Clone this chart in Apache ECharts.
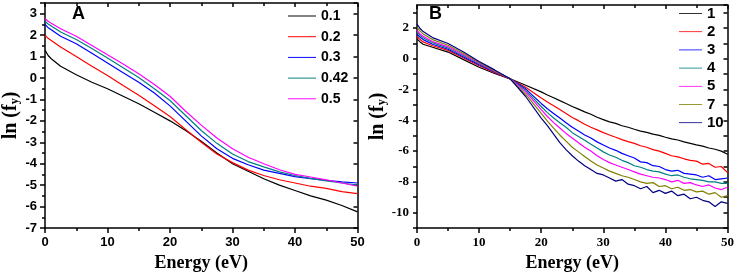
<!DOCTYPE html>
<html>
<head>
<meta charset="utf-8">
<script src="https://cdn.jsdelivr.net/npm/echarts@6/dist/echarts.min.js"></script>
<style>
  html, body { margin: 0; padding: 0; background: #fff; }
  #chart { width: 737px; height: 277px; }
</style>
</head>
<body>
<div id="chart"></div>
<script>
// panel A: ln(f_y) vs energy for several values
const energyA = [0, 0.5, 1, 2.5, 5, 7.5, 10, 12.5, 15, 17.5, 20, 22.5, 25, 27.5, 30, 32.5, 35, 37.5, 40, 42.5, 45, 47.5, 50]
const namesA = ['0.1', '0.2', '0.3', '0.42', '0.5']
const colorsA = ['#000000', '#ff0000', '#0000ff', '#008080', '#ff00ff']
const a01 = [1.3, 1.05, 0.9, 0.55, 0.15, -0.2, -0.5, -0.85, -1.2, -1.6, -2.0, -2.45, -2.95, -3.5, -4.0, -4.35, -4.7, -5.0, -5.25, -5.5, -5.7, -5.95, -6.25]
const a02 = [2.0, 1.85, 1.75, 1.45, 1.0, 0.55, 0.12, -0.35, -0.8, -1.3, -1.8, -2.4, -3.0, -3.55, -3.95, -4.3, -4.55, -4.75, -4.9, -5.05, -5.15, -5.3, -5.4]
const a03 = [2.5, 2.35, 2.25, 1.95, 1.6, 1.15, 0.7, 0.25, -0.2, -0.7, -1.3, -2.0, -2.7, -3.3, -3.75, -4.05, -4.3, -4.45, -4.6, -4.7, -4.78, -4.85, -4.9]
const a042 = [2.65, 2.52, 2.43, 2.15, 1.8, 1.38, 0.93, 0.48, 0.02, -0.5, -1.05, -1.75, -2.45, -3.05, -3.55, -3.9, -4.15, -4.38, -4.55, -4.68, -4.8, -4.9, -5.0]
const a05 = [2.78, 2.65, 2.56, 2.3, 1.95, 1.52, 1.08, 0.65, 0.2, -0.3, -0.85, -1.55, -2.2, -2.8, -3.3, -3.7, -4.0, -4.28, -4.5, -4.62, -4.75, -4.9, -5.05]
const valuesA = [a01, a02, a03, a042, a05]

// panel B
const energyB = [0, 0.5, 1, 2.5, 5, 7.5, 10, 12.5, 15, 17.5, 20, 21, 22, 23, 24, 25, 26, 27, 28, 29, 30, 31, 32, 33, 34, 35, 36, 37, 38, 39, 40, 41, 42, 43, 44, 45, 46, 47, 48, 49, 50]
const namesB = ['1', '2', '3', '4', '5', '7', '10']
const colorsB = ['#000000', '#ff0000', '#0000ff', '#008080', '#ff00ff', '#808000', '#000080']
const b1 = [1.3, 1.1, 0.95, 0.75, 0.44, -0.05, -0.55, -0.95, -1.3, -1.72, -2.15, -2.35, -2.53, -2.72, -2.9, -3.1, -3.27, -3.45, -3.6, -3.8, -3.95, -4.1, -4.2, -4.35, -4.45, -4.58, -4.7, -4.78, -4.9, -4.98, -5.1, -5.2, -5.28, -5.4, -5.5, -5.6, -5.68, -5.8, -5.88, -6.0, -6.2]
const b2 = [1.45, 1.25, 1.1, 0.85, 0.55, 0.05, -0.45, -0.9, -1.3, -1.85, -2.55, -2.8, -3.05, -3.3, -3.55, -3.82, -4.02, -4.25, -4.45, -4.62, -4.8, -4.95, -5.1, -5.25, -5.38, -5.5, -5.65, -5.75, -5.9, -6.0, -6.15, -6.3, -6.38, -6.5, -6.6, -6.65, -6.85, -6.8, -7.05, -7.0, -7.4]
const b3 = [1.6, 1.4, 1.25, 0.95, 0.62, 0.12, -0.38, -0.85, -1.3, -1.95, -2.9, -3.25, -3.55, -3.85, -4.15, -4.45, -4.7, -4.95, -5.15, -5.4, -5.6, -5.8, -5.95, -6.15, -6.3, -6.45, -6.7, -6.75, -6.95, -7.0, -7.2, -7.3, -7.25, -7.45, -7.5, -7.55, -7.7, -7.6, -7.85, -7.8, -7.75]
const b4 = [1.75, 1.52, 1.37, 1.05, 0.7, 0.2, -0.32, -0.82, -1.3, -2.05, -3.1, -3.5, -3.85, -4.15, -4.45, -4.8, -5.05, -5.3, -5.55, -5.8, -6.05, -6.25, -6.4, -6.6, -6.75, -6.95, -7.05, -7.2, -7.3, -7.35, -7.5, -7.6, -7.55, -7.7, -7.8, -7.85, -7.9, -8.0, -8.0, -8.1, -8.1]
const b5 = [1.85, 1.62, 1.47, 1.13, 0.78, 0.27, -0.27, -0.8, -1.3, -2.15, -3.3, -3.75, -4.15, -4.5, -4.85, -5.15, -5.45, -5.75, -6.0, -6.3, -6.55, -6.75, -6.9, -7.05, -7.2, -7.35, -7.5, -7.6, -7.7, -7.75, -7.85, -8.0, -7.9, -8.1, -8.05, -8.2, -8.3, -8.2, -8.4, -8.5, -8.35]
const b7 = [2.05, 1.8, 1.62, 1.25, 0.88, 0.35, -0.22, -0.77, -1.3, -2.3, -3.55, -4.05, -4.5, -4.95, -5.35, -5.75, -6.05, -6.35, -6.65, -6.9, -7.1, -7.3, -7.45, -7.6, -7.7, -7.85, -8.0, -8.1, -8.05, -8.3, -8.25, -8.45, -8.35, -8.55, -8.5, -8.65, -8.6, -8.8, -8.7, -9.0, -8.9]
const b10 = [2.25, 1.97, 1.77, 1.38, 1.0, 0.45, -0.17, -0.72, -1.3, -2.45, -3.85, -4.35, -4.9, -5.45, -5.9, -6.3, -6.65, -6.95, -7.2, -7.45, -7.55, -7.75, -7.95, -7.85, -8.15, -8.25, -8.45, -8.3, -8.7, -8.55, -8.75, -8.6, -8.9, -8.8, -9.1, -9.0, -9.2, -9.3, -9.6, -9.3, -9.4]
const valuesB = [b1, b2, b3, b4, b5, b7, b10]

const sans = 'Liberation Sans, Arial, sans-serif'
const serif = 'Liberation Serif, Times New Roman, serif'

const chart = echarts.init(document.getElementById('chart'))

const axisLine = { onZero: false, lineStyle: { color: '#000', width: 1.5 } }
const tickStyle = { color: '#000', width: 1.5 }

const bottomAxis = (grid, font) => ({
  type: 'value', gridIndex: grid, position: 'bottom',
  min: 0, max: 50, interval: 10,
  name: 'Energy (eV)', nameLocation: 'middle', nameGap: 26,
  nameTextStyle: { fontFamily: serif, fontWeight: 'bold', fontSize: 18, color: '#000' },
  axisLine,
  axisTick: { length: 5, lineStyle: tickStyle },
  minorTick: { show: true, splitNumber: 2, length: 3, lineStyle: tickStyle },
  axisLabel: { margin: 8, fontFamily: font, fontWeight: 'bold', fontSize: 13, color: '#000' },
  splitLine: { show: false }
})

const topAxis = grid => ({
  type: 'value', gridIndex: grid, position: 'top',
  min: 0, max: 50, interval: 10,
  axisLine,
  axisTick: { inside: true, length: 4, lineStyle: tickStyle },
  minorTick: { show: true, splitNumber: 2, length: 3, lineStyle: tickStyle },
  axisLabel: { show: false },
  splitLine: { show: false }
})

const yName = {
  name: '{a|ln (f}{s|y}{a|)}', nameLocation: 'middle',
  nameTextStyle: {
    rich: {
      a: { fontFamily: serif, fontWeight: 'bold', fontSize: 20, color: '#000' },
      s: { fontFamily: serif, fontWeight: 'bold', fontSize: 12, color: '#000', verticalAlign: 'bottom', padding: [8, 0, 0, 0] }
    }
  }
}

// thin horizontal bar used as legend line sample
const lineIcon = 'path://M0,0 H40 V1.4 H0 Z'

const option = {
  animation: false,
  grid: [
    { left: 44, top: 3, right: 379.5, bottom: 44.3 },
    { left: 417, top: 5, right: 9, bottom: 42.5 }
  ],
  xAxis: [
    bottomAxis(0, sans), topAxis(0),
    bottomAxis(1, serif), topAxis(1)
  ],
  yAxis: [
    {
      type: 'value', gridIndex: 0, position: 'left',
      min: -7, max: 3.5, interval: 1,
      ...yName, nameGap: 24,
      axisLine,
      axisTick: { length: 5, lineStyle: tickStyle },
      minorTick: { show: true, splitNumber: 2, length: 3, lineStyle: tickStyle },
      axisLabel: { margin: 8, showMaxLabel: false, fontFamily: sans, fontWeight: 'bold', fontSize: 13, color: '#000' },
      splitLine: { show: false }
    },
    {
      type: 'value', gridIndex: 0, position: 'right',
      min: -7, max: 3.5, interval: 1,
      axisLine,
      axisTick: { inside: true, length: 4, lineStyle: tickStyle },
      axisLabel: { show: false },
      splitLine: { show: false }
    },
    {
      type: 'value', gridIndex: 1, position: 'left',
      min: -11, max: 3.5, interval: 1,
      ...yName, nameGap: 28,
      axisLine,
      axisTick: { length: 4, lineStyle: tickStyle },
      axisLabel: {
        margin: 8, showMaxLabel: false, fontFamily: serif, fontWeight: 'bold', fontSize: 13, color: '#000',
        formatter: v => (v % 2 === 0 ? v : '')
      },
      splitLine: { show: false }
    },
    {
      type: 'value', gridIndex: 1, position: 'right',
      min: -11, max: 3.5, interval: 1,
      axisLine,
      axisTick: { inside: true, length: 4, lineStyle: tickStyle },
      axisLabel: { show: false },
      splitLine: { show: false }
    }
  ],
  legend: [
    {
      data: namesA, orient: 'vertical', left: 288, top: 9, padding: 0,
      icon: lineIcon, itemWidth: 28, itemHeight: 14, itemGap: 6.7,
      textStyle: { fontFamily: sans, fontWeight: 'bold', fontSize: 14, color: '#000' }
    },
    {
      data: namesB, orient: 'vertical', left: 679, top: 6, padding: 0,
      icon: lineIcon, itemWidth: 23, itemHeight: 14, itemGap: 3.2,
      textStyle: { fontFamily: sans, fontWeight: 'bold', fontSize: 15, color: '#000' }
    }
  ],
  graphic: [
    { type: 'text', left: 72, top: 5, style: { text: 'A', font: 'bold 18px ' + sans, fill: '#000' } },
    { type: 'text', left: 429, top: 5, style: { text: 'B', font: 'bold 18px ' + sans, fill: '#000' } }
  ],
  series: [
    ...valuesA.map((vals, k) => ({
      name: namesA[k], type: 'line', xAxisIndex: 0, yAxisIndex: 0,
      symbol: 'none', color: colorsA[k], lineStyle: { width: 1.2 },
      data: energyA.map((e, i) => [e, vals[i]])
    })),
    ...valuesB.map((vals, k) => ({
      name: namesB[k], type: 'line', xAxisIndex: 2, yAxisIndex: 2,
      symbol: 'none', color: colorsB[k], lineStyle: { width: 1.2 },
      data: energyB.map((e, i) => [e, vals[i]])
    }))
  ]
}

chart.setOption(option)
</script>
</body>
</html>
